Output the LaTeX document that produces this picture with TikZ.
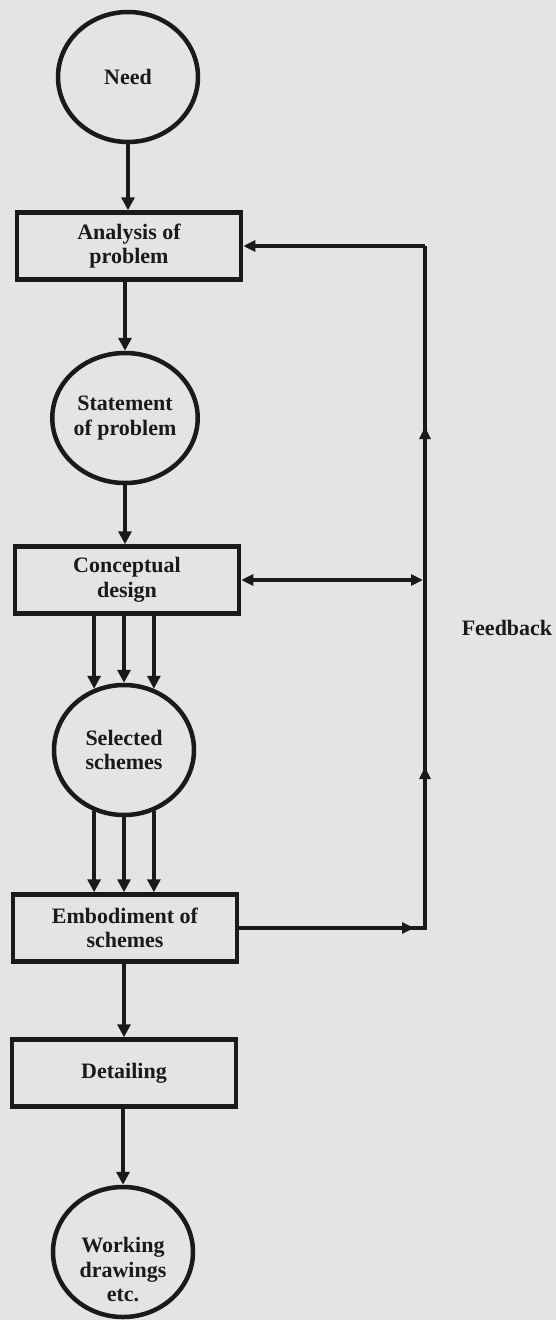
\documentclass[tikz,border=0pt]{standalone}
\usepackage{fontspec}
\setmainfont{Liberation Serif}
\usetikzlibrary{arrows.meta,shapes.geometric}
\definecolor{paper}{RGB}{228,228,228}
\definecolor{ink}{RGB}{26,26,26}
\begin{document}
\begin{tikzpicture}[x=1pt,y=-1pt,
  every node/.style={font=\fontsize{22}{24.5}\selectfont\bfseries, text=ink, align=center},
  roundstage/.style={draw=ink, line width=4.5pt, ellipse, minimum width=140pt, minimum height=130pt, inner sep=0pt},
  boxstage/.style={draw=ink, line width=4.5pt, rectangle, minimum width=224pt, minimum height=67pt, inner sep=0pt},
  flow/.style={draw=ink, line width=4.5pt, -{Triangle[length=13pt,width=13pt]}},
  fbline/.style={draw=ink, line width=3.8pt},
  fbarrow/.style={draw=ink, line width=3.8pt, -{Triangle[length=12pt,width=11pt]}},
  fbboth/.style={draw=ink, line width=3.8pt, {Triangle[length=12pt,width=11pt]}-{Triangle[length=12pt,width=11pt]}}
]
% page
\fill[paper] (0,0) rectangle (556,1320);
\useasboundingbox (0,0) rectangle (556,1320);

% stages of the design process
\node[roundstage] (need) at (128,77) {Need};
\node[boxstage] (ana) at (129,246) {Analysis of\\problem};
\node[roundstage] (stat) at (125,418) {Statement\\of problem};
\node[boxstage] (con) at (127,580) {Conceptual\\design};
\node[roundstage] (sel) at (124,750) {Selected\\schemes};
\node[boxstage] (emb) at (125,928) {Embodiment of\\schemes};
\node[boxstage] (det) at (124,1073) {Detailing};
\node[roundstage] (work) at (123,1252) {};
\node (worktxt) at (123,1270) {Working\\drawings\\etc.};

% main flow
\draw[flow] (need.south) -- (need.south |- ana.north);
\draw[flow] (ana.south -| stat.north) -- (stat.north);
\draw[flow] (stat.south) -- (stat.south |- con.north);
\foreach \a in {116,90,64}{
  \draw[flow] (con.south -| sel.\a) -- (sel.\a);
}
\foreach \a in {244,270,296}{
  \draw[flow] (sel.\a) -- (sel.\a |- emb.north);
}
\draw[flow] (emb.south -| det.north) -- (det.north);
\draw[flow] (det.south -| work.north) -- (work.north);

% feedback loop
\coordinate (fbtop) at (425,246);
\coordinate (fbbot) at (425,928);
\coordinate (fbin) at (414,928);
\coordinate (fbup1) at (425,767);
\coordinate (fbup2) at (425,427);
\coordinate (fbmid) at (423,580);
\draw[fbline] (emb.east) -- (fbbot) -- (fbtop);
\draw[fbarrow] (emb.east) -- (fbin);
\draw[fbarrow] (fbbot) -- (fbup1);
\draw[fbarrow] (fbup1) -- (fbup2);
\draw[fbarrow] (fbtop) -- (ana.east);
\draw[fbboth] (con.east) -- (fbmid);
\node (fb) at (507,628) {Feedback};
\end{tikzpicture}
\end{document}
